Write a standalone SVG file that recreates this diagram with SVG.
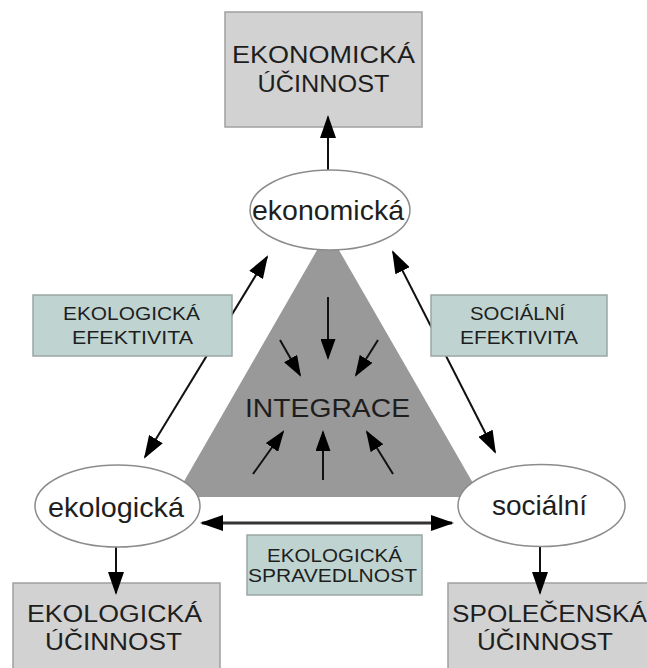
<svg xmlns="http://www.w3.org/2000/svg" width="647" height="668" viewBox="0 0 647 668">
<style>
  .box { fill: #d2d2d2; stroke: #a0a0a0; stroke-width: 1.5; }
  .lbl { fill: #bfd4d1; stroke: #9aa6a4; stroke-width: 1.5; }
  .ell { fill: #ffffff; stroke: #8c8c8c; stroke-width: 1.5; }
  .t { font-family: "Liberation Sans", Arial, sans-serif; fill: #1e1e1e; text-anchor: middle; }
  .bt { font-size: 23px; }
  .lt { font-size: 19px; }
  .et { font-size: 28px; }
  .con { stroke: #111; stroke-width: 2; fill: none; }
</style>
<defs>
  <marker id="ah" markerUnits="userSpaceOnUse" markerWidth="24" markerHeight="16" refX="21" refY="8" orient="auto-start-reverse">
    <path d="M0,0 L23,8 L0,16 z" fill="#000"/>
  </marker>
  <marker id="ahs" markerUnits="userSpaceOnUse" markerWidth="22" markerHeight="15" refX="19" refY="7.5" orient="auto">
    <path d="M0,0 L21,7.5 L0,15 z" fill="#000"/>
  </marker>
</defs>

<g id="integrace">
  <polygon points="328,231 175,497 481,497" fill="#999999"/>
  <text class="t" x="327.5" y="417" font-size="25" textLength="165" lengthAdjust="spacingAndGlyphs">INTEGRACE</text>
  <g class="con">
    <line x1="328" y1="297" x2="328" y2="358" marker-end="url(#ahs)"/>
    <line x1="280" y1="340" x2="300" y2="375" marker-end="url(#ahs)"/>
    <line x1="378" y1="340" x2="356" y2="375" marker-end="url(#ahs)"/>
    <line x1="253" y1="474" x2="283" y2="432" marker-end="url(#ahs)"/>
    <line x1="323" y1="480" x2="323" y2="432" marker-end="url(#ahs)"/>
    <line x1="393" y1="474" x2="367" y2="432" marker-end="url(#ahs)"/>
  </g>
</g>

<g id="ekonomicka-ucinnost">
  <rect class="box" x="225" y="12" width="197" height="115"/>
  <text class="t bt" x="323.5" y="63" textLength="183" lengthAdjust="spacingAndGlyphs">EKONOMICKÁ</text>
  <text class="t bt" x="323.5" y="92" textLength="132" lengthAdjust="spacingAndGlyphs">ÚČINNOST</text>
</g>

<g id="ekologicka-ucinnost">
  <rect class="box" x="13" y="583" width="207" height="100"/>
  <text class="t bt" x="114.5" y="622" textLength="175" lengthAdjust="spacingAndGlyphs">EKOLOGICKÁ</text>
  <text class="t bt" x="113.5" y="650" textLength="137" lengthAdjust="spacingAndGlyphs">ÚČINNOST</text>
</g>

<g id="spolecenska-ucinnost">
  <rect class="box" x="448" y="583" width="210" height="100"/>
  <text class="t bt" x="549.5" y="622" textLength="195" lengthAdjust="spacingAndGlyphs">SPOLEČENSKÁ</text>
  <text class="t bt" x="545" y="650" textLength="136" lengthAdjust="spacingAndGlyphs">ÚČINNOST</text>
</g>

<g id="connectors" class="con">
  <line x1="328" y1="170" x2="328" y2="117" marker-end="url(#ah)"/>
  <line x1="145" y1="457" x2="267" y2="257" marker-start="url(#ah)" marker-end="url(#ah)"/>
  <line x1="393" y1="252" x2="495" y2="452" marker-start="url(#ah)" marker-end="url(#ah)"/>
  <line x1="202" y1="523" x2="452" y2="523" stroke="#333" stroke-width="3" marker-start="url(#ah)" marker-end="url(#ah)"/>
  <line x1="116" y1="547" x2="116" y2="593" marker-end="url(#ah)"/>
  <line x1="540" y1="547" x2="540" y2="593" marker-end="url(#ah)"/>
</g>

<g id="ekologicka-efektivita">
  <rect class="lbl" x="33" y="295" width="199" height="61"/>
  <text class="t lt" x="131.5" y="320" textLength="137" lengthAdjust="spacingAndGlyphs">EKOLOGICKÁ</text>
  <text class="t lt" x="132.5" y="344" textLength="121" lengthAdjust="spacingAndGlyphs">EFEKTIVITA</text>
</g>

<g id="socialni-efektivita">
  <rect class="lbl" x="431" y="295" width="176" height="61"/>
  <text class="t lt" x="517.5" y="320" textLength="95" lengthAdjust="spacingAndGlyphs">SOCIÁLNÍ</text>
  <text class="t lt" x="519" y="344" textLength="118" lengthAdjust="spacingAndGlyphs">EFEKTIVITA</text>
</g>

<g id="ekologicka-spravedlnost">
  <rect class="lbl" x="247" y="535" width="175" height="60"/>
  <text class="t lt" x="334.5" y="562" textLength="135" lengthAdjust="spacingAndGlyphs">EKOLOGICKÁ</text>
  <text class="t lt" x="332.5" y="582" textLength="169" lengthAdjust="spacingAndGlyphs">SPRAVEDLNOST</text>
</g>

<g id="ekonomicka">
  <ellipse class="ell" cx="330" cy="210" rx="80" ry="40"/>
  <text class="t et" x="328" y="220" textLength="152" lengthAdjust="spacingAndGlyphs">ekonomická</text>
</g>

<g id="ekologicka">
  <ellipse class="ell" cx="117.5" cy="506" rx="82.5" ry="41"/>
  <text class="t et" x="116" y="517" textLength="136" lengthAdjust="spacingAndGlyphs">ekologická</text>
</g>

<g id="socialni">
  <ellipse class="ell" cx="541.5" cy="505.5" rx="83.5" ry="41"/>
  <text class="t et" x="539.5" y="515" textLength="95" lengthAdjust="spacingAndGlyphs">sociální</text>
</g>
</svg>
